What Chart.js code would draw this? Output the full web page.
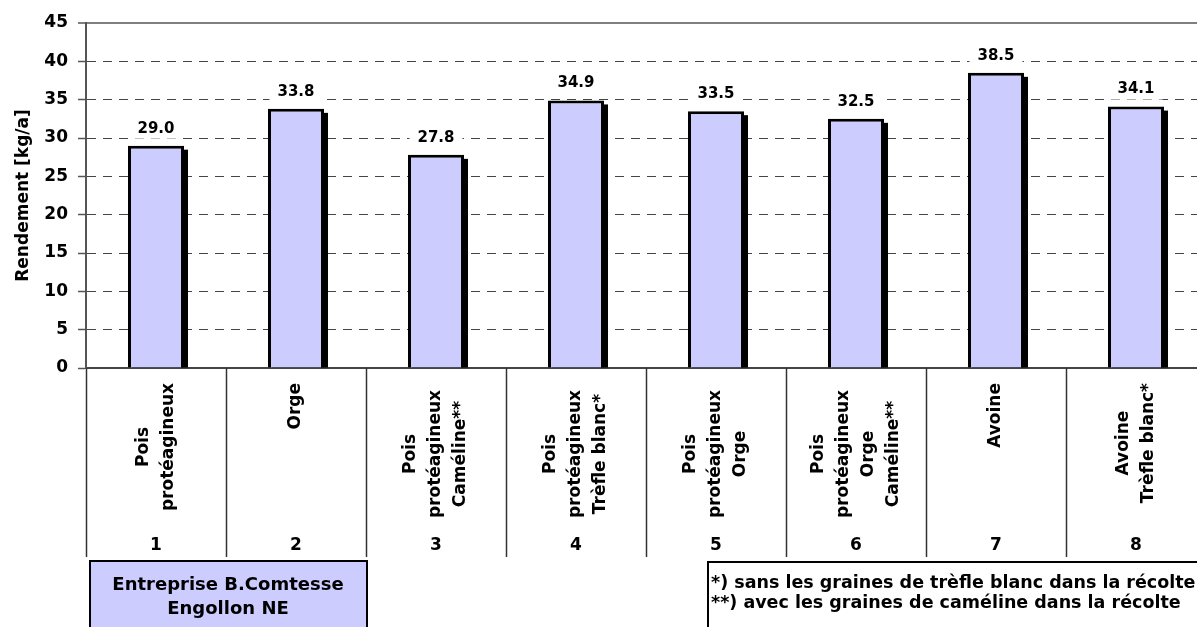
<!DOCTYPE html>
<html>
<head>
<meta charset="utf-8">
<script src="https://cdn.jsdelivr.net/npm/chart.js@4.4.1/dist/chart.umd.min.js"></script>
<style>
  html, body { margin: 0; padding: 0; overflow: hidden; background: #fff; }
</style>
</head>
<body>
<canvas id="chart" width="1206" height="627"></canvas>
<script>
const plotNumbers = ["1", "2", "3", "4", "5", "6", "7", "8"];
const cropNames = [
  ["Pois", "protéagineux"],
  ["Orge"],
  ["Pois", "protéagineux", "Caméline**"],
  ["Pois", "protéagineux", "Trèfle blanc*"],
  ["Pois", "protéagineux", "Orge"],
  ["Pois", "protéagineux", "Orge", "Caméline**"],
  ["Avoine"],
  ["Avoine", "Trèfle blanc*"]
];
const yields = [29.0, 33.8, 27.8, 34.9, 33.5, 32.5, 38.5, 34.1];
const siteLines = ["Entreprise B.Comtesse", "Engollon NE"];
const noteLines = [
  "*) sans les graines de trèfle blanc dans la récolte",
  "**) avec les graines de caméline dans la récolte"
];

const FONT = "'DejaVu Sans', sans-serif";

// ombre noire décalée derrière chaque barre
const barShadow = {
  id: "barShadow",
  beforeDatasetsDraw(chart) {
    const ctx = chart.ctx;
    ctx.save();
    ctx.fillStyle = "#000";
    chart.getDatasetMeta(0).data.forEach(bar => {
      const p = bar.getProps(["x", "y", "base", "width"], true);
      ctx.fillRect(p.x - p.width / 2 + 4, p.y + 4, p.width, p.base - p.y - 4);
    });
    ctx.restore();
  }
};

// valeurs au-dessus des barres, sur fond blanc
const valueLabels = {
  id: "valueLabels",
  afterDatasetsDraw(chart) {
    const ctx = chart.ctx;
    ctx.save();
    ctx.font = "bold 15px " + FONT;
    ctx.textAlign = "center";
    ctx.textBaseline = "middle";
    chart.getDatasetMeta(0).data.forEach((bar, i) => {
      const txt = yields[i].toFixed(1);
      const w = ctx.measureText(txt).width + 16;
      const cy = bar.y - 18;
      ctx.fillStyle = "#fff";
      ctx.fillRect(bar.x - w / 2, cy - 11, w, 22);
      ctx.fillStyle = "#000";
      ctx.fillText(txt, bar.x, cy + 1);
    });
    ctx.restore();
  }
};

// axe des catégories : séparateurs, noms verticaux, numéros, encadrés
const categoryAxis = {
  id: "categoryAxis",
  afterDraw(chart) {
    const { ctx, chartArea, scales: { x } } = chart;
    const half = (x.getPixelForValue(1) - x.getPixelForValue(0)) / 2;
    ctx.save();
    ctx.strokeStyle = "#333";
    ctx.lineWidth = 1.5;
    for (let i = 0; i <= plotNumbers.length; i++) {
      const px = Math.round(x.getPixelForValue(i) - half) + 0.5;
      ctx.beginPath();
      ctx.moveTo(px, chartArea.bottom);
      ctx.lineTo(px, 557);
      ctx.stroke();
    }

    ctx.fillStyle = "#000";
    ctx.font = "bold 17px " + FONT;
    cropNames.forEach((lines, i) => {
      const cx = x.getPixelForValue(i);
      const maxW = Math.max(...lines.map(l => ctx.measureText(l).width));
      const top = chartArea.bottom + (lines.length > 2 ? 22 : 15);
      ctx.save();
      ctx.translate(cx, top);
      ctx.rotate(-Math.PI / 2);
      ctx.textAlign = "center";
      ctx.textBaseline = "middle";
      lines.forEach((l, j) => ctx.fillText(l, -maxW / 2, (j - (lines.length - 1) / 2) * 25));
      ctx.restore();
    });

    ctx.textAlign = "center";
    ctx.textBaseline = "middle";
    plotNumbers.forEach((n, i) => ctx.fillText(n, x.getPixelForValue(i), 546));

    // encadré de l'exploitation
    ctx.fillStyle = "#ccccff";
    ctx.fillRect(90, 561, 277, 80);
    ctx.strokeStyle = "#000";
    ctx.lineWidth = 2;
    ctx.strokeRect(90, 561, 277, 80);
    ctx.fillStyle = "#000";
    ctx.font = "bold 18px " + FONT;
    siteLines.forEach((l, j) => ctx.fillText(l, 228, 585 + j * 24));

    // encadré des notes
    ctx.fillStyle = "#fff";
    ctx.fillRect(708, 562, 520, 80);
    ctx.strokeRect(708, 562, 520, 80);
    ctx.fillStyle = "#000";
    ctx.textAlign = "left";
    ctx.font = "bold 17.5px " + FONT;
    noteLines.forEach((l, j) => ctx.fillText(l, 711, 583 + j * 20));
    ctx.restore();
  }
};

new Chart(document.getElementById("chart"), {
  type: "bar",
  data: {
    labels: plotNumbers,
    datasets: [{
      data: yields,
      backgroundColor: "#ccccff",
      borderColor: "#000",
      borderWidth: 3,
      borderSkipped: "bottom",
      barPercentage: 0.4,
      categoryPercentage: 1
    }]
  },
  options: {
    responsive: false,
    animation: false,
    layout: { padding: { left: 0, right: 0, top: 23, bottom: 259 } },
    plugins: { legend: { display: false }, tooltip: { enabled: false } },
    scales: {
      x: {
        ticks: { display: false },
        grid: { display: false },
        border: { color: "#444", width: 2 },
        afterFit(s) { s.height = 0; }
      },
      y: {
        min: 0,
        max: 45,
        ticks: {
          stepSize: 5,
          color: "#000",
          padding: 10,
          font: { family: FONT, size: 17, weight: "bold" }
        },
        grid: {
          color: c => (c.tick && c.tick.value === 45 ? "#808080" : "#444"),
          lineWidth: c => (c.tick && c.tick.value === 45 ? 2 : 1),
          tickLength: 8,
          tickColor: "#555",
          tickWidth: 1.5
        },
        border: {
          color: "#555",
          width: 2,
          dash: c => (c.tick && c.tick.value !== 45 ? [9, 7] : [])
        },
        title: {
          display: true,
          text: "Rendement [kg/a]",
          color: "#000",
          padding: { top: 13, bottom: 0 },
          font: { family: FONT, size: 17, weight: "bold" }
        },
        afterFit(s) { s.width = 86; }
      }
    }
  },
  plugins: [barShadow, valueLabels, categoryAxis]
});
</script>
</body>
</html>
